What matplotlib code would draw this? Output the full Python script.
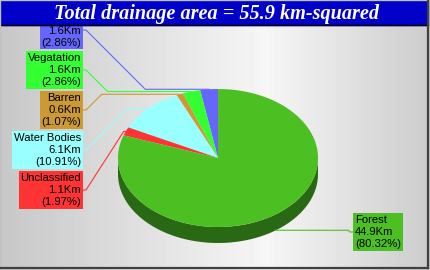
import numpy as np
import matplotlib
matplotlib.use("Agg")
import matplotlib.pyplot as plt
from matplotlib.patches import Polygon, Rectangle

# Data
names = ["", "Vegatation", "Barren", "Water Bodies", "Unclassified", "Forest"]
km = [1.6, 1.6, 0.6, 6.1, 1.1, 44.9]
pct = [2.86, 2.86, 1.07, 10.91, 1.97, 80.32]
colors = ["#6666ff", "#33ff33", "#cc9933", "#99ffff", "#ff3333", "#4cbf22"]
total = 55.9

W, H = 430, 270
fig = plt.figure(figsize=(W / 100, H / 100), dpi=100)
ax = fig.add_axes([0, 0, 1, 1])
ax.set_xlim(0, W)
ax.set_ylim(H, 0)
ax.axis("off")

# background: horizontal grey gradient
xs = np.linspace(0, 1, 430)
g = np.interp(xs, [0, 0.62, 1], [0.78, 0.965, 0.80])
grad = np.tile(g, (10, 1))
ax.imshow(grad, cmap="gray", vmin=0, vmax=1, extent=[0, W, H, 0],
          aspect="auto", zorder=0)

# frame
ax.add_patch(Rectangle((0, 0), W, H, fill=False, ec="#c0c0c0", lw=1, zorder=10))
ax.plot([427.5, 427.5], [1, 268], color="#404040", lw=1.6, zorder=10)
ax.plot([1, 428], [267.5, 267.5], color="#404040", lw=1.6, zorder=10)

# title bar
ax.add_patch(Rectangle((1, 1), 426.5, 24, color="#0000c8", zorder=8))
ax.plot([1, 427.5], [25, 25], color="black", lw=1, zorder=8)
ax.text(216, 13.5, f"Total drainage area = {total} km-squared", color="white",
        fontsize=14.6, fontweight="bold", fontstyle="italic",
        family="Liberation Serif", ha="center", va="center", zorder=9)

# 3D pie geometry
cx, cy, rx, ry, depth = 218, 158, 100, 69, 16


def pt(a, dy=0):
    r = np.radians(a)
    return cx + rx * np.cos(r), cy - ry * np.sin(r) + dy


def darker(c, f=0.55):
    rgb = np.array(matplotlib.colors.to_rgb(c))
    return rgb * f


starts = 90 + np.concatenate([[0], np.cumsum(pct)[:-1]]) * 3.6
ends = starts + np.array(pct) * 3.6

# side faces (front half only)
for s, e, c in zip(starts, ends, colors):
    lo, hi = max(s, 180), min(e, 360)
    if hi > lo:
        a = np.linspace(lo, hi, 120)
        top = [pt(v) for v in a]
        bot = [pt(v, depth) for v in a[::-1]]
        ax.add_patch(Polygon(top + bot, closed=True, color=darker(c), lw=0, zorder=2))

# top faces
for s, e, c in zip(starts, ends, colors):
    a = np.linspace(s, e, 200)
    poly = [(cx, cy)] + [pt(v) for v in a]
    ax.add_patch(Polygon(poly, closed=True, color=c, lw=0, zorder=3))

# labels and leader lines
label_y = [30, 70, 110, 150, 190, 232]
cut_labels = []
for i, (n, v, p, c) in enumerate(zip(names, km, pct, colors)):
    mid = (starts[i] + ends[i]) / 2 % 360
    ex, ey = pt(mid, depth if 180 < mid < 360 else 0)
    ly = label_y[i]
    if n:
        txt = f"{n}\n{v}Km\n({p:.2f}%)"
        ty = ly
    else:
        # name line is hidden under the title bar
        txt = f"{v}Km\n({p:.2f}%)"
        ty = ly + 6.5
    if np.cos(np.radians(mid)) < 0:
        bx = 83
        t = ax.text(bx - 2, ty, txt, ha="right", va="center", fontsize=8.1,
                    family="Liberation Sans", linespacing=1.25, zorder=5,
                    bbox=dict(boxstyle="square,pad=0.15", fc=c, ec="none"))
        kx = min(bx + 3 + abs(ly - ey), ex - 2)
        ax.plot([bx, bx + 3, kx, ex], [ly, ly, ey, ey], color=c, lw=0.8, zorder=4)
    else:
        bx = 353
        t = ax.text(bx + 2, ty, txt, ha="left", va="center", fontsize=8.1,
                    family="Liberation Sans", linespacing=1.25, zorder=5,
                    bbox=dict(boxstyle="square,pad=0.15", fc=c, ec="none"))
        kx = max(bx - 3 - abs(ly - ey), ex + 2)
        ax.plot([bx, bx - 3, kx, ex], [ly, ly, ey, ey], color=c, lw=0.8, zorder=4)
    if not n:
        cut_labels.append((t, c))

# extend truncated label boxes up to the title bar
fig.canvas.draw()
r = fig.canvas.get_renderer()
for t, c in cut_labels:
    bb = t.get_bbox_patch().get_window_extent(r).transformed(ax.transData.inverted())
    x0, x1 = sorted([bb.x0, bb.x1])
    ytop = min(bb.y0, bb.y1)
    ax.add_patch(Rectangle((x0, 25), x1 - x0, ytop - 25 + 0.5, color=c, lw=0, zorder=5))

fig.savefig("out.png", dpi=100)
